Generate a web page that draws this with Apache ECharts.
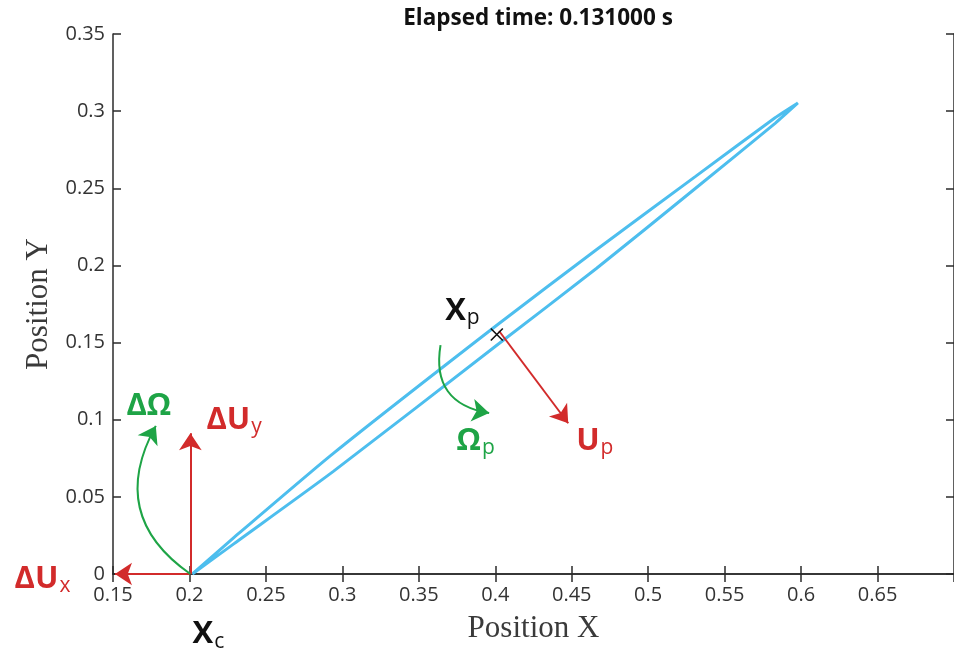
<!DOCTYPE html>
<html>
<head>
<meta charset="utf-8">
<script src="https://cdn.jsdelivr.net/npm/echarts@6/dist/echarts.min.js"></script>
<style>html,body{margin:0;padding:0;background:#fff}#c{width:954px;height:652px}</style>
</head>
<body>
<div id="c"></div>
<script>
// Trajectory loop (upper branch start->tip, lower branch tip->start)
const upperX = [0.2019, 0.2292, 0.2941, 0.4012, 0.4661, 0.5310, 0.5830, 0.5979];
const upperY = [0.0000, 0.0237, 0.0782, 0.1614, 0.2102, 0.2577, 0.2957, 0.3053];
const lowerX = [0.5830, 0.5310, 0.4661, 0.4012, 0.2941, 0.2292, 0.2019];
const lowerY = [0.2921, 0.2500, 0.1980, 0.1484, 0.0665, 0.0197, 0.0000];

// Probe marker
const probePoint = [0.4010, 0.1552];

// Red arrows: start and end points
const redArrowStart = [[0.2006, 0.0], [0.2006, 0.0], [0.4025, 0.1575]];
const redArrowEnd   = [[0.2006, 0.0912], [0.1513, 0.0], [0.4477, 0.0977]];
// Green curved arrows
const greenArrowStart = [[0.2006, 0.0], [0.3642, 0.1484]];
const greenArrowEnd   = [[0.1780, 0.0960], [0.3960, 0.1043]];
const greenArrowBend  = [0.45, -0.5];

// Annotation texts and anchors
const redNoteMain = ['ΔU', 'ΔU', 'U'];
const redNoteSub  = ['y', 'x', 'p'];
const redNoteX = [0.2292, 0.1039, 0.4651];
const redNoteY = [0.1020, -0.0012, 0.0885];
const greenNoteMain = ['ΔΩ', 'Ω'];
const greenNoteSub  = ['', 'p'];
const greenNoteX = [0.1734, 0.3872];
const greenNoteY = [0.1110, 0.0885];
const blackNoteMain = ['X', 'X'];
const blackNoteSub  = ['c', 'p'];
const blackNoteX = [0.2124, 0.3785];
const blackNoteY = [-0.0370, 0.1725];

const titleText = 'Elapsed time: 0.131000 s';
const xName = 'Position X';
const yName = 'Position Y';

const RED = '#D22B2B', GREEN = '#1EA446', AXIS = '#2b2b2b';

const loop = [];
upperX.forEach((x, i) => loop.push([x, upperY[i]]));
lowerX.forEach((x, i) => loop.push([x, lowerY[i]]));

function notes(mainArr, subArr, xs, ys) {
  return mainArr.map((m, i) => ({ value: [xs[i], ys[i]], main: m, sub: subArr[i] }));
}
function noteLabel(color) {
  return {
    show: true, position: 'inside',
    formatter: p => '{b|' + p.data.main + '}' + (p.data.sub ? '{s|' + p.data.sub + '}' : ''),
    rich: {
      b: { fontFamily: 'Open Sans', fontWeight: 'bold', fontSize: 31, color: color, verticalAlign: 'bottom', lineHeight: 38 },
      s: { fontFamily: 'Open Sans', fontSize: 21, color: color, verticalAlign: 'bottom', lineHeight: 38, padding: [0, 0, -2, 1] }
    }
  };
}
function arrowSeries(color, starts, ends, bends) {
  return {
    type: 'lines', coordinateSystem: 'cartesian2d', silent: true, polyline: false, clip: false,
    symbol: ['none', 'arrow'], symbolSize: [13, 17],
    lineStyle: { color: color, width: 2, opacity: 1, type: 'solid' },
    z: 4,
    data: starts.map((s, i) => ({
      coords: [s, ends[i]],
      lineStyle: { curveness: bends ? bends[i] : 0, color: color, width: 2, opacity: 1 }
    }))
  };
}
function noteSeries(color, data) {
  return {
    type: 'scatter', clip: false, symbolSize: 0, silent: true,
    itemStyle: { opacity: 1 }, data: data, label: noteLabel(color), z: 6
  };
}

const tickFont = { fontFamily: 'Open Sans', fontSize: 20, color: '#333' };
const axisLine = { show: true, lineStyle: { color: AXIS, width: 1.5 } };
const axisTick = { show: true, inside: true, length: 8, lineStyle: { color: AXIS, width: 1.5 } };

const chart = echarts.init(document.getElementById('c'), null, { renderer: 'canvas' });
chart.setOption({
  animation: false,
  backgroundColor: '#fff',
  title: {
    text: titleText, left: 533, top: 2, textAlign: 'center',
    textStyle: { fontFamily: 'Open Sans', fontWeight: 'bold', fontSize: 22.5, color: '#111' }
  },
  grid: { left: 113, top: 34, right: -6, bottom: 78, containLabel: false },
  xAxis: [{
    type: 'value', min: 0.15, max: 0.7, interval: 0.05,
    name: xName, nameLocation: 'middle', nameGap: 39,
    nameTextStyle: { fontFamily: 'Liberation Serif', fontSize: 31, color: '#3a3a3a' },
    axisLine, axisTick, splitLine: { show: false },
    axisLabel: Object.assign({ margin: 11, showMaxLabel: false }, tickFont)
  }, {
    type: 'value', min: 0.15, max: 0.7, interval: 0.05, position: 'top',
    axisLine, axisTick, splitLine: { show: false }, axisLabel: { show: false }
  }],
  yAxis: [{
    type: 'value', min: 0, max: 0.35, interval: 0.05,
    name: yName, nameLocation: 'middle', nameGap: 56, nameRotate: 90,
    nameTextStyle: { fontFamily: 'Liberation Serif', fontSize: 31, color: '#3a3a3a' },
    axisLine, axisTick, splitLine: { show: false },
    axisLabel: Object.assign({ margin: 8 }, tickFont)
  }, {
    type: 'value', min: 0, max: 0.35, interval: 0.05, position: 'right',
    axisLine, axisTick, splitLine: { show: false }, axisLabel: { show: false }
  }],
  series: [{
    name: 'trajectory', type: 'line', data: loop, smooth: 0.2,
    showSymbol: false, symbol: 'none', silent: true,
    lineStyle: { color: '#4DBEEE', width: 3 }
  }, {
    name: 'probe', type: 'scatter', data: [probePoint], silent: true,
    symbol: 'path://M0,0L10,10M10,0L0,10', symbolSize: 12,
    itemStyle: { color: 'rgba(0,0,0,0)', borderColor: '#111', borderWidth: 1.6, opacity: 1 },
    z: 5
  },
  arrowSeries(RED, redArrowStart, redArrowEnd, null),
  arrowSeries(GREEN, greenArrowStart, greenArrowEnd, greenArrowBend),
  noteSeries(RED, notes(redNoteMain, redNoteSub, redNoteX, redNoteY)),
  noteSeries(GREEN, notes(greenNoteMain, greenNoteSub, greenNoteX, greenNoteY)),
  noteSeries('#111', notes(blackNoteMain, blackNoteSub, blackNoteX, blackNoteY))
  ]
});
</script>
</body>
</html>
